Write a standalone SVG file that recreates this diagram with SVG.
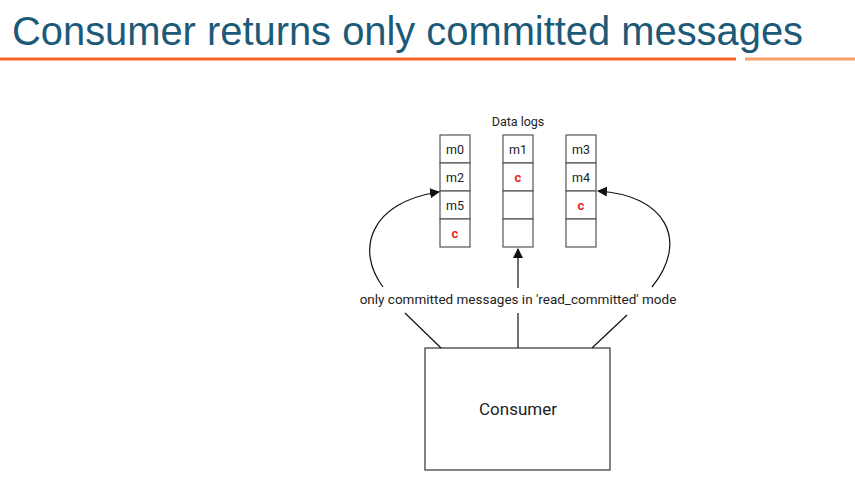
<svg xmlns="http://www.w3.org/2000/svg" width="855" height="499" viewBox="0 0 855 499">
<style>
.cell{fill:#fff;stroke:#555;stroke-width:1.2}
.t{font-family:Roboto,"Liberation Sans",sans-serif;font-size:12.5px;fill:#222;text-anchor:middle}
.c{font-family:Roboto,"Liberation Sans",sans-serif;font-size:13px;font-weight:bold;fill:#e8281e;text-anchor:middle}
.conn{fill:none;stroke:#111;stroke-width:1.2}
</style>
<defs>
<marker id="ah" viewBox="0 0 10 10" refX="9" refY="5" markerWidth="10" markerHeight="10" markerUnits="userSpaceOnUse" orient="auto">
<path d="M0,0 L10,5 L0,10 z" fill="#111"/>
</marker>
</defs>
<rect width="855" height="499" fill="#fff"/>
<g id="title">
<text x="12" y="45" font-family="'Liberation Sans',Arial,sans-serif" font-size="41" fill="#1d5a77" textLength="791" lengthAdjust="spacingAndGlyphs">Consumer returns only committed messages</text>
<rect x="0" y="57.5" width="736" height="3" fill="#f26522"/>
<rect x="745" y="57.5" width="110" height="3" fill="#f7a067"/>
</g>
<g id="datalogs-label"><text class="t" x="518" y="126">Data logs</text></g>
<g id="log1">
<rect class="cell" x="440" y="135" width="30" height="28"/>
<rect class="cell" x="440" y="163" width="30" height="28"/>
<rect class="cell" x="440" y="191" width="30" height="28"/>
<rect class="cell" x="440" y="219" width="30" height="28"/>
<text class="t" x="455" y="153.5">m0</text>
<text class="t" x="455" y="181.5">m2</text>
<text class="t" x="455" y="209.5">m5</text>
<text class="c" x="455" y="237.5">c</text>
</g>
<g id="log2">
<rect class="cell" x="503" y="135" width="30" height="28"/>
<rect class="cell" x="503" y="163" width="30" height="28"/>
<rect class="cell" x="503" y="191" width="30" height="28"/>
<rect class="cell" x="503" y="219" width="30" height="28"/>
<text class="t" x="518" y="153.5">m1</text>
<text class="c" x="518" y="181.5">c</text>
</g>
<g id="log3">
<rect class="cell" x="566" y="135" width="30" height="28"/>
<rect class="cell" x="566" y="163" width="30" height="28"/>
<rect class="cell" x="566" y="191" width="30" height="28"/>
<rect class="cell" x="566" y="219" width="30" height="28"/>
<text class="t" x="581" y="153.5">m3</text>
<text class="t" x="581" y="181.5">m4</text>
<text class="c" x="581" y="209.5">c</text>
</g>
<g id="consumer">
<rect x="425" y="348" width="185" height="122" fill="#fff" stroke="#333" stroke-width="1.2"/>
<text x="518" y="415" font-family="Roboto,'Liberation Sans',sans-serif" font-size="17" fill="#222" text-anchor="middle">Consumer</text>
</g>
<g id="connectors">
<path class="conn" d="M441,348 L405,313"/>
<path class="conn" d="M383,287 C355,250 370,202 439,192" marker-end="url(#ah)"/>
<path class="conn" d="M518,348 L518,313"/>
<path class="conn" d="M518,288 L518,249" marker-end="url(#ah)"/>
<path class="conn" d="M592,348 L627,315"/>
<path class="conn" d="M652,287 C690,240 665,195 598,191" marker-end="url(#ah)"/>
<text x="518" y="304" font-family="Roboto,'Liberation Sans',sans-serif" font-size="13.5" fill="#222" text-anchor="middle">only committed messages in 'read_committed' mode</text>
</g>
</svg>
